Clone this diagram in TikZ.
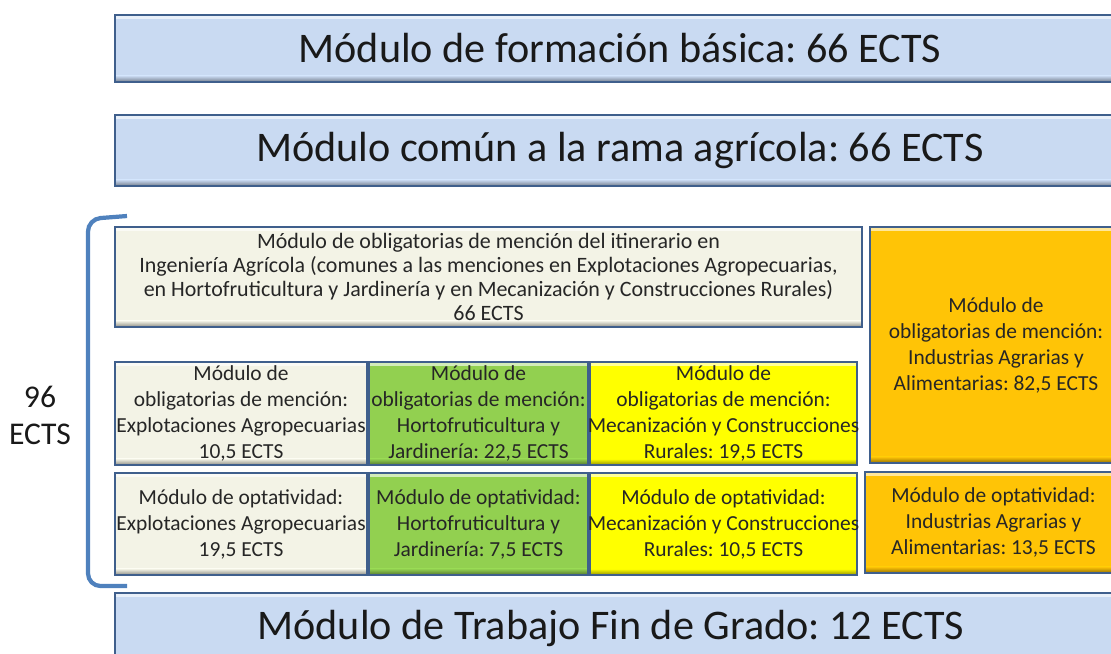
\documentclass[tikz,border=0pt]{standalone}
\usepackage{fontspec}
\setmainfont{Carlito}
\usepackage{xcolor}
\usetikzlibrary{positioning}
\frenchspacing
\definecolor{boxedge}{HTML}{3F5F8C}
\definecolor{modblue}{HTML}{C9DAF2}
\definecolor{modcream}{HTML}{F3F3E6}
\definecolor{modgreen}{HTML}{92D050}
\definecolor{modyellow}{HTML}{FFFF00}
\definecolor{modorange}{HTML}{FFC406}
\definecolor{bracecol}{HTML}{4F81BD}

\begin{document}
\begin{tikzpicture}[x=0.02cm, y=-0.02cm,
    modbox/.style={draw=boxedge, line width=0.9pt, fill=#1,
      path picture={
        \fill[white, opacity=.6] (path picture bounding box.north west) rectangle ([yshift=-2.5pt]path picture bounding box.north east);
        \shade[top color=#1, bottom color=#1!50!black, opacity=.85] ([yshift=3.5pt]path picture bounding box.south west) rectangle (path picture bounding box.south east);
      }},
    bigtext/.style={font=\fontsize{24}{28}\selectfont, text=black!90},
    smalltext/.style={align=center, font=\fontsize{12.2}{14.8}\selectfont, text=black!85}]
    % study plan modules
    \clip (0,0) rectangle (1111,653);
    \draw[modbox=modblue] (115,15) rectangle (1125,82) node[pos=.5, bigtext] (basica) {Módulo de formación básica: 66 ECTS};
    \draw[modbox=modblue] (115,115) rectangle (1125,186) node[pos=.5, bigtext] (comun) {Módulo común a la rama agrícola: 66 ECTS};
    % itinerary block
    \draw[modbox=modcream] (115,227) rectangle (862,327) node[pos=.5, smalltext, font=\fontsize{12.5}{13.7}\selectfont] (itinerario) {Módulo de obligatorias de mención del itinerario en\\Ingeniería Agrícola (comunes a las menciones en Explotaciones Agropecuarias,\\en Hortofruticultura y Jardinería y en Mecanización y Construcciones Rurales)\\66 ECTS};
    \draw[modbox=modorange] (870,227) rectangle (1122,463) node[pos=.5, smalltext] (industrias) {Módulo de\\obligatorias de mención:\\Industrias Agrarias y\\Alimentarias: 82,5 ECTS};
    % compulsory per mention
    \draw[modbox=modcream] (115,362) rectangle (367,465) node[pos=.5, smalltext] (explot) {Módulo de\\obligatorias de mención:\\Explotaciones Agropecuarias\\10,5 ECTS};
    \draw[modbox=modgreen] (369,362) rectangle (588,465) node[pos=.5, smalltext] (horto) {Módulo de\\obligatorias de mención:\\Hortofruticultura y\\Jardinería: 22,5 ECTS};
    \draw[modbox=modyellow] (590,362) rectangle (857,465) node[pos=.5, smalltext] (mecan) {Módulo de\\obligatorias de mención:\\Mecanización y Construcciones\\Rurales: 19,5 ECTS};
    % optional per mention
    \draw[modbox=modcream] (115,473) rectangle (367,575) node[pos=.5, smalltext] (explotopt) {Módulo de optatividad:\\Explotaciones Agropecuarias\\19,5 ECTS};
    \draw[modbox=modgreen] (369,473) rectangle (588,575) node[pos=.5, smalltext] (hortoopt) {Módulo de optatividad:\\Hortofruticultura y\\Jardinería: 7,5 ECTS};
    \draw[modbox=modyellow] (590,473) rectangle (857,575) node[pos=.5, smalltext] (mecanopt) {Módulo de optatividad:\\Mecanización y Construcciones\\Rurales: 10,5 ECTS};
    \draw[modbox=modorange] (865,472) rectangle (1122,573) node[pos=.5, smalltext] (industriasopt) {Módulo de optatividad:\\Industrias Agrarias y\\Alimentarias: 13,5 ECTS};
    % final project
    \draw[modbox=modblue] (115,593) rectangle (1125,670) node[pos=.5, bigtext, xshift=-0.18cm, yshift=0.06cm] (tfg) {Módulo de Trabajo Fin de Grado: 12 ECTS};
    % bracket and total
    \draw[bracecol, line width=2.4pt, rounded corners=0.25cm] (127,216) -- (88,219) -- (88,586) -- (127,586);
    \node[font=\fontsize{18}{21}\selectfont, align=center, text=black!90] (total) at (40,415) {96\\ECTS};
  \end{tikzpicture}
\end{document}
